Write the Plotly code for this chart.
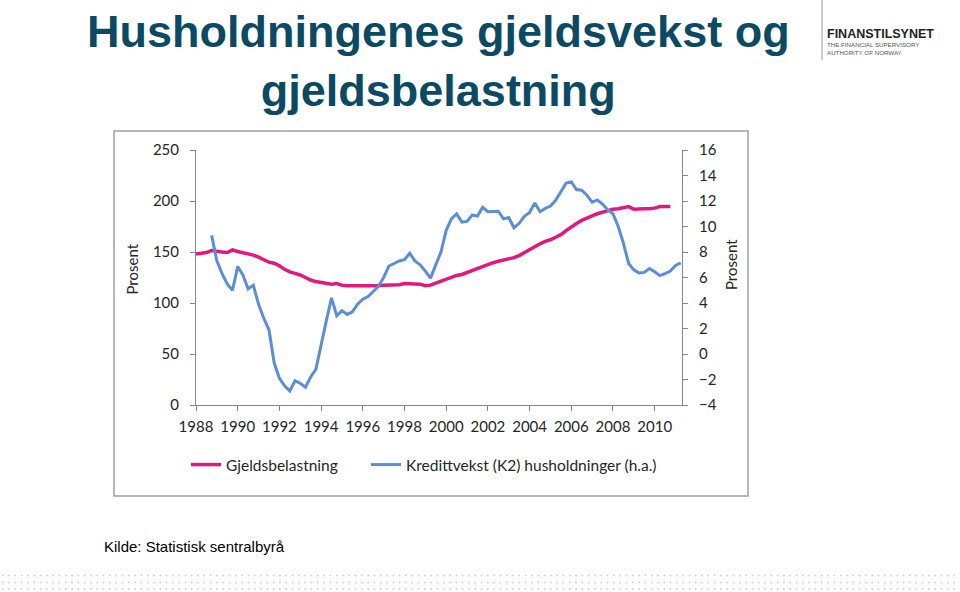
import plotly.graph_objects as go

# ---- data (quarterly) ----
gjeld_start = 1988.0
gjeldsbelastning = [
    148, 148.5, 149.5, 151.5,
    150.5, 150, 149.5, 152,
    150.5, 149.5, 148, 147,
    145, 142.5, 140, 139,
    136.5, 133, 130.5, 129,
    127.5, 125, 122.5, 121,
    120, 119, 118.5, 119,
    117.5, 117, 117, 117,
    117, 116.5, 117, 117,
    117.5, 117.5, 118, 118,
    119, 119, 119, 118.5,
    117, 117.5, 119.5, 121.5,
    123, 125, 127, 128,
    130, 132, 134, 136,
    138, 139.5, 141, 142,
    143, 144.5, 146.5, 149.5,
    152.5, 155.5, 158, 160.5,
    162, 164.5, 167, 171,
    175, 178, 181, 183.5,
    185.5, 187.5, 189, 191,
    192, 192.5, 193.5, 194.5,
    192, 192.5, 192.5, 192.5,
    193, 194.5, 194.5, 194.5,
]
kreditt_start = 1988.75
kredittvekst = [
    9.3,
    7.3, 6.3, 5.5, 5.0,
    6.85, 6.2, 5.1, 5.4,
    3.9, 2.8, 1.9, -0.7,
    -1.9, -2.5, -2.9, -2.1,
    -2.3, -2.6, -1.8, -1.2,
    0.8, 2.6, 4.4, 3.0,
    3.4, 3.1, 3.3, 3.9,
    4.3, 4.5, 4.9, 5.3,
    6.0, 6.9, 7.1, 7.3,
    7.4, 7.9, 7.3, 7.0,
    6.5, 5.95, 7.0, 8.0,
    9.7, 10.6, 11.0, 10.35,
    10.4, 10.9, 10.82, 11.5,
    11.16, 11.16, 11.2, 10.6,
    10.7, 9.9, 10.25, 10.8,
    11.1, 11.85, 11.16, 11.42,
    11.6, 12.05, 12.7, 13.4,
    13.5, 12.9, 12.85, 12.45,
    11.9, 12.08, 11.76, 11.3,
    11.0, 10.0, 8.7, 7.1,
    6.6, 6.35, 6.4, 6.7,
    6.45, 6.15, 6.3, 6.5,
    6.95, 7.15,
]
x_ticks = list(range(1988, 2011, 2))
left_ticks = [0, 50, 100, 150, 200, 250]
right_ticks = list(range(-4, 17, 2))

x_gjeld = [gjeld_start + 0.25 * i for i in range(len(gjeldsbelastning))]
x_kreditt = [kreditt_start + 0.25 * i for i in range(len(kredittvekst))]

W, H = 960, 592
def px(x):
    return x / W
def py(y):
    return 1 - y / H

PINK = "#e0197d"
BLUE = "#5b8ed4"
AXIS = "#868686"
TXT = "#262626"
FONT = "Lato"

fig = go.Figure()
fig.add_trace(go.Scatter(x=x_gjeld, y=gjeldsbelastning, mode="lines",
                         name="Gjeldsbelastning", legend="legend",
                         line=dict(color=PINK, width=3.5)))
fig.add_trace(go.Scatter(x=x_kreditt, y=kredittvekst, mode="lines",
                         name="Kredittvekst (K2) husholdninger (h.a.)",
                         legend="legend2",
                         line=dict(color=BLUE, width=3), yaxis="y2"))

leg_common = dict(orientation="h", xanchor="left", yanchor="middle",
                  font=dict(family=FONT, size=15.5, color=TXT),
                  bgcolor="rgba(0,0,0,0)", borderwidth=0)

fig.update_layout(
    width=W, height=H, autosize=False,
    margin=dict(l=0, r=0, t=0, b=0, pad=0, autoexpand=False),
    paper_bgcolor="white", plot_bgcolor="white",
    font=dict(family=FONT, size=15, color=TXT),
    showlegend=True,
    legend=dict(x=px(186), y=py(465), **leg_common),
    legend2=dict(x=px(366), y=py(465), **leg_common),
    xaxis=dict(domain=[px(196), px(682)], range=[1988, 2011.31],
               tickvals=x_ticks, ticktext=[str(t) for t in x_ticks],
               showgrid=False, zeroline=False, showline=True,
               linecolor=AXIS, linewidth=1, ticks="outside", ticklen=5,
               tickcolor=AXIS, ticklabelstandoff=3, automargin=False,
               tickfont=dict(family=FONT, size=15, color=TXT),
               anchor="y", fixedrange=True),
    yaxis=dict(domain=[py(405), py(150)], range=[0, 250],
               tickvals=left_ticks, showgrid=False, zeroline=False,
               showline=True, linecolor=AXIS, linewidth=1, ticks="outside",
               ticklen=5, tickcolor=AXIS, ticklabelstandoff=8, automargin=False,
               tickfont=dict(family=FONT, size=15, color=TXT),
               anchor="x"),
    yaxis2=dict(domain=[py(405), py(150)], range=[-4, 16],
                tickvals=right_ticks, overlaying="y", side="right",
                anchor="x", showgrid=False, zeroline=False, showline=True,
                linecolor=AXIS, linewidth=1, ticks="outside", ticklen=5,
                tickcolor=AXIS, ticklabelstandoff=8, automargin=False,
                tickfont=dict(family=FONT, size=15, color=TXT)),
)

# chart frame
fig.add_shape(type="rect", xref="paper", yref="paper",
              x0=px(114), x1=px(748), y0=py(496), y1=py(131),
              line=dict(color="#a0a0a0", width=1.5), layer="below")

# axis titles
fig.add_annotation(text="Prosent", xref="paper", yref="paper", x=px(131.5), y=py(269),
                   xanchor="center", yanchor="middle",
                   showarrow=False, textangle=-90,
                   font=dict(family=FONT, size=15, color=TXT))
fig.add_annotation(text="Prosent", xref="paper", yref="paper", x=px(731), y=py(265),
                   xanchor="center", yanchor="middle",
                   showarrow=False, textangle=-90,
                   font=dict(family=FONT, size=15, color=TXT))

# slide title
fig.add_annotation(text="Husholdningenes gjeldsvekst og<br>gjeldsbelastning",
                   xref="paper", yref="paper", x=px(438), y=py(61),
                   xanchor="center", yanchor="middle", showarrow=False,
                   align="center",
                   font=dict(family="Liberation Sans", size=45, color="#0b4a62",
                             weight="bold"))

# logo
fig.add_shape(type="line", xref="paper", yref="paper",
              x0=px(822), x1=px(822), y0=py(60), y1=py(0),
              line=dict(color="#9a9a9a", width=1))
fig.add_annotation(text="<b>FINANSTILSYNET</b>", xref="paper", yref="paper",
                   x=px(825), y=py(34.5), xanchor="left", yanchor="middle",
                   showarrow=False,
                   font=dict(family="Liberation Sans", size=12.5, color="#222222"))
fig.add_annotation(text="THE FINANCIAL SUPERVISORY<br>AUTHORITY OF NORWAY",
                   xref="paper", yref="paper", x=px(825), y=py(48),
                   xanchor="left", yanchor="middle", showarrow=False,
                   align="left",
                   font=dict(family="Liberation Sans", size=6.2, color="#555555"))

# source
fig.add_annotation(text="Kilde: Statistisk sentralbyrå", xref="paper", yref="paper",
                   x=px(102), y=py(546), xanchor="left", yanchor="middle",
                   showarrow=False,
                   font=dict(family="Liberation Sans", size=15, color="#000000"))

# dotted footer band
for yy in (575.5, 582.5, 589):
    fig.add_shape(type="line", xref="paper", yref="paper",
                  x0=px(2), x1=px(958), y0=py(yy), y1=py(yy),
                  line=dict(color="#c4c8cc", width=1.5, dash="1.5px,4.8px"))

fig.write_html("out.html")
